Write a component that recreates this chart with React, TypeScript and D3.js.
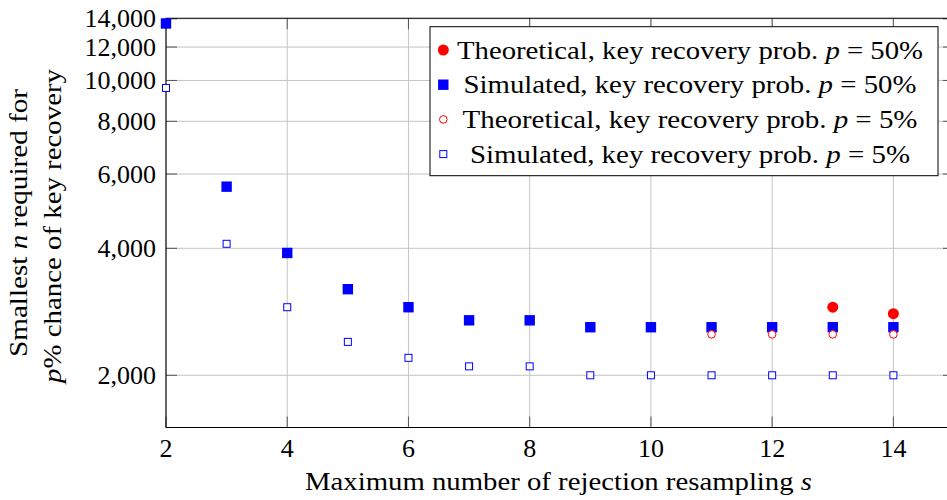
import React from "react";
import * as d3 from "d3";

const sValues = [2, 3, 4, 5, 6, 7, 8, 9, 10, 11, 12, 13, 14];
const simulated50 = [13650, 5600, 3900, 3200, 2900, 2700, 2700, 2600, 2600, 2600, 2600, 2600, 2600];
const simulated5 = [9600, 4100, 2900, 2400, 2200, 2100, 2100, 2000, 2000, 2000, 2000, 2000, 2000];
const theoS50 = [13, 14];
const theoretical50 = [2900, 2800];
const theoS5 = [11, 12, 13, 14];
const theoretical5 = [2500, 2500, 2500, 2500];
const xTicks = [2, 4, 6, 8, 10, 12, 14];
const yTicks = [2000, 4000, 6000, 8000, 10000, 12000, 14000];

const W = 947;
const H = 500;
const FONT = "'Liberation Serif', 'Times New Roman', serif";

export default function App() {
  const left = 166, right = 954, top = 18.3, bottom = 427.5;
  const x = d3.scaleLinear().domain([2, 15]).range([left, right]);
  const y = d3.scaleLog().domain([1504, 14040]).range([bottom, top]);
  const fmt = d3.format(",");
  const tickLen = 11;

  const legendRows = [
    { label: "Theoretical, key recovery prob. ", pct: "50%", len: 466, kind: "fc" },
    { label: "Simulated, key recovery prob. ", pct: "50%", len: 453, kind: "fs" },
    { label: "Theoretical, key recovery prob. ", pct: "5%", len: 455, kind: "oc" },
    { label: "Simulated, key recovery prob. ", pct: "5%", len: 440, kind: "os" },
  ];
  const legendY0 = 50, legendDy = 34.7, legendMarkX = 443.3;

  const marker = (kind: string, cx: number, cy: number, key: string) => {
    if (kind === "fc") return <circle key={key} cx={cx} cy={cy} r={5.5} fill="#ff0000" />;
    if (kind === "fs") return <rect key={key} x={cx - 5.2} y={cy - 5.2} width={10.4} height={10.4} fill="#0000ff" />;
    if (kind === "oc") return <circle key={key} cx={cx} cy={cy} r={3.8} fill="white" stroke="#ff0000" strokeWidth={1} />;
    return <rect key={key} x={cx - 3.5} y={cy - 3.5} width={7} height={7} fill="white" stroke="#0000ff" strokeWidth={1} />;
  };

  return (
    <svg width={W} height={H} style={{ position: "absolute", left: 0, top: 0, background: "white" }} fontFamily={FONT}>
      <rect x={0} y={0} width={W} height={H} fill="white" />
      {/* grid */}
      {xTicks.map((t) => (
        <line key={"gx" + t} x1={x(t)} x2={x(t)} y1={top} y2={bottom} stroke="#c4c4c4" strokeWidth={1} />
      ))}
      {yTicks.map((t) => (
        <line key={"gy" + t} x1={left} x2={right} y1={y(t)} y2={y(t)} stroke="#c4c4c4" strokeWidth={1} />
      ))}
      {/* ticks */}
      {xTicks.map((t) => (
        <g key={"tx" + t}>
          <line x1={x(t)} x2={x(t)} y1={bottom} y2={bottom - tickLen} stroke="#555" strokeWidth={1} />
          <line x1={x(t)} x2={x(t)} y1={top} y2={top + tickLen} stroke="#555" strokeWidth={1} />
        </g>
      ))}
      {yTicks.map((t) => (
        <g key={"ty" + t}>
          <line x1={left} x2={left + tickLen} y1={y(t)} y2={y(t)} stroke="#555" strokeWidth={1} />
          <line x1={right} x2={right - tickLen} y1={y(t)} y2={y(t)} stroke="#555" strokeWidth={1} />
        </g>
      ))}
      {/* axes frame */}
      <line x1={left} x2={right} y1={bottom} y2={bottom} stroke="black" strokeWidth={1.1} />
      <line x1={left} x2={right} y1={top} y2={top} stroke="black" strokeWidth={1.1} />
      <line x1={left} x2={left} y1={top} y2={bottom} stroke="black" strokeWidth={1.1} />
      <line x1={right} x2={right} y1={top} y2={bottom} stroke="black" strokeWidth={1.1} />
      {/* tick labels */}
      {xTicks.map((t) => (
        <text key={"lx" + t} x={x(t)} y={457} textAnchor="middle" fontSize={26} fill="black">
          {t}
        </text>
      ))}
      {yTicks.map((t) => (
        <text key={"ly" + t} x={156} y={y(t) + 8.5} textAnchor="end" fontSize={26} fill="black">
          {fmt(t)}
        </text>
      ))}
      {/* axis labels */}
      <text x={558.5} y={490} textAnchor="middle" fontSize={26} textLength={507} lengthAdjust="spacingAndGlyphs">
        Maximum number of rejection resampling <tspan fontStyle="italic">s</tspan>
      </text>
      <text transform="translate(27,223) rotate(-90)" textAnchor="middle" fontSize={26} textLength={268} lengthAdjust="spacingAndGlyphs">
        Smallest <tspan fontStyle="italic">n</tspan> required for
      </text>
      <text transform="translate(61,226) rotate(-90)" textAnchor="middle" fontSize={26} textLength={314} lengthAdjust="spacingAndGlyphs">
        <tspan fontStyle="italic">p</tspan>% chance of key recovery
      </text>
      {/* data */}
      {theoS50.map((s, i) => marker("fc", x(s), y(theoretical50[i]), "t50" + s))}
      {sValues.map((s, i) => marker("fs", x(s), y(simulated50[i]), "s50" + s))}
      {theoS5.map((s, i) => marker("oc", x(s), y(theoretical5[i]), "t5" + s))}
      {sValues.map((s, i) => marker("os", x(s), y(simulated5[i]), "s5" + s))}
      {/* legend */}
      <rect x={430} y={26.7} width={508} height={149} fill="white" stroke="black" strokeWidth={1} />
      {legendRows.map((r, i) => {
        const cy = legendY0 + i * legendDy;
        return (
          <g key={"leg" + i}>
            {marker(r.kind, legendMarkX, cy, "lm" + i)}
            <text x={690} y={cy + 8.5} textAnchor="middle" fontSize={26} textLength={r.len} lengthAdjust="spacingAndGlyphs">
              {r.label}
              <tspan fontStyle="italic">p</tspan> = {r.pct}
            </text>
          </g>
        );
      })}
    </svg>
  );
}
